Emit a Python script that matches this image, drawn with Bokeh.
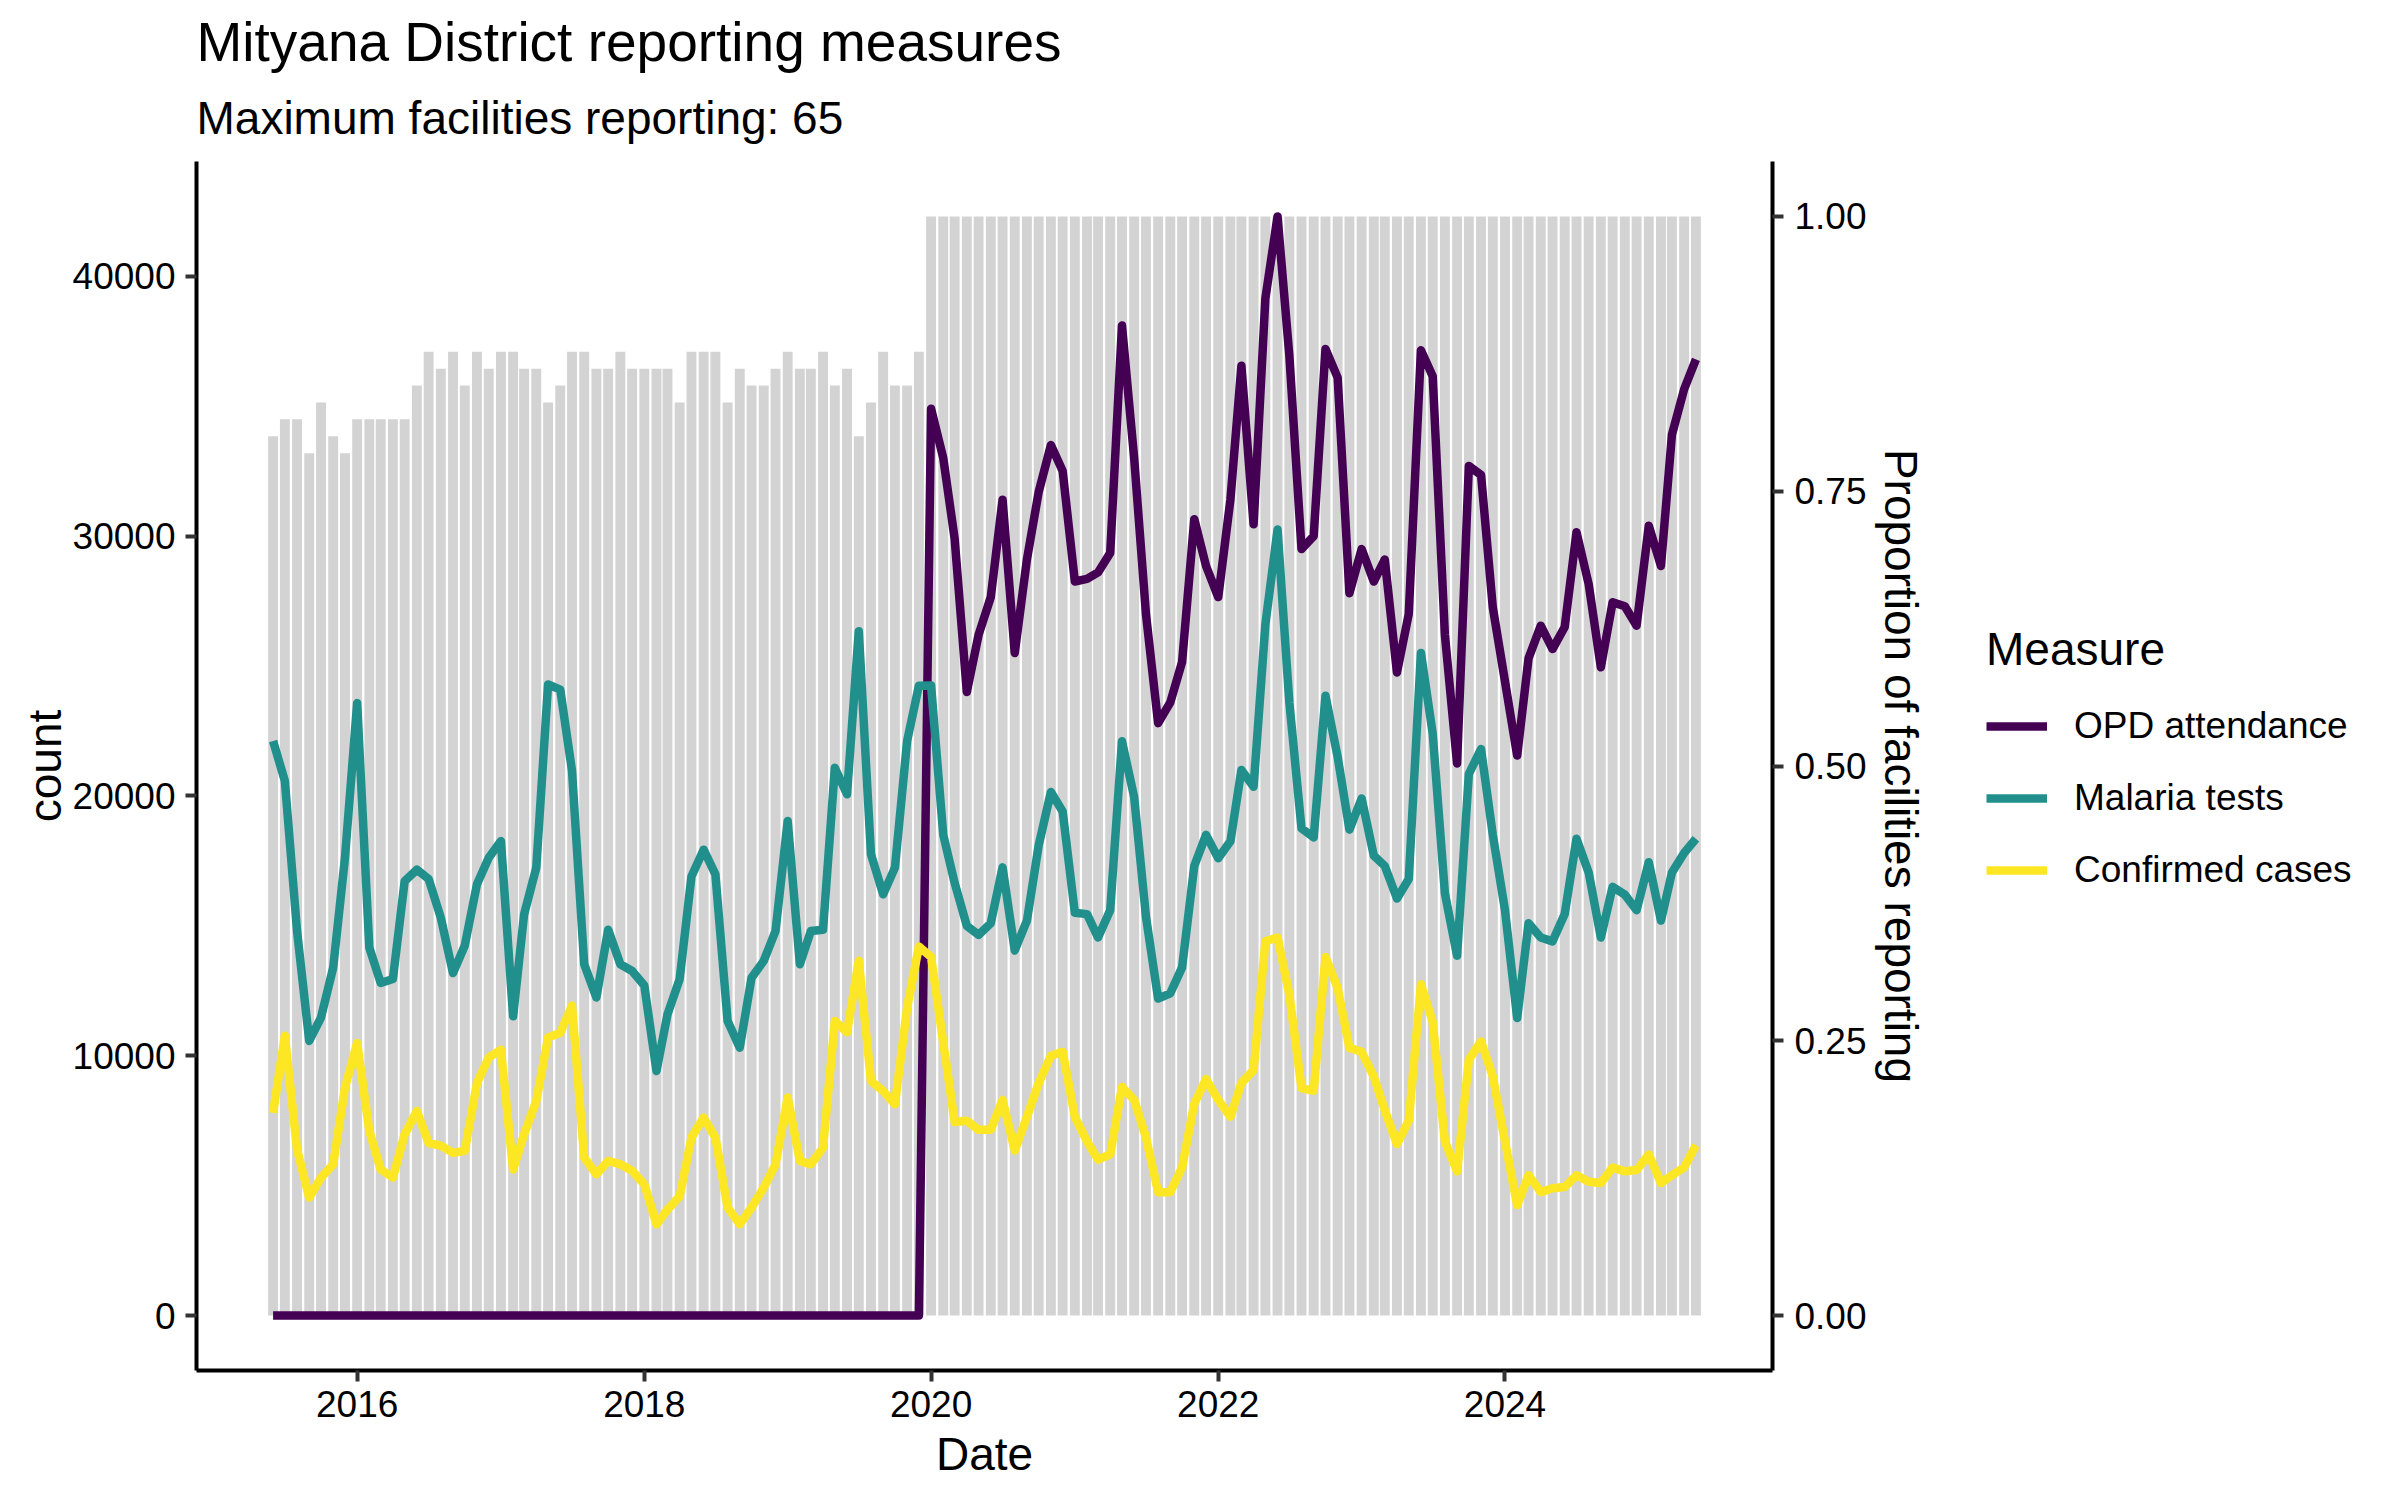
import pandas as pd
from bokeh.plotting import figure
from bokeh.layouts import row
from bokeh.models import (Range1d, LinearAxis, FixedTicker, DatetimeTickFormatter,
                          NumeralTickFormatter, BasicTickFormatter, Legend, LegendItem, Title)
from bokeh.embed import file_html
from bokeh.resources import INLINE

# ---------------- data ----------------
start_month = "2015-06-01"
n_months = 120
max_facilities = 65

facilities = [52, 53, 53, 51, 54, 52, 51, 53, 53, 53, 53, 53, 55, 57, 56, 57, 55, 57, 56, 57,
              57, 56, 56, 54, 55, 57, 57, 56, 56, 57, 56, 56, 56, 56, 54, 57, 57, 57, 54, 56,
              55, 55, 56, 57, 56, 56, 57, 55, 56, 52, 54, 57, 55, 55, 57] + [65] * 65

opd = [0] * 55 + [34900, 33000, 29900, 24000, 26200, 27650, 31400, 25500, 29100, 31700,
                  33500, 32500, 28250, 28350, 28600, 29350, 38100, 33000, 27000, 22800,
                  23600, 25150, 30650, 28850, 27650, 31400, 36550, 30450, 39150, 42300,
                  36950, 29500, 30000, 37200, 36100, 27800, 29500, 28250, 29100, 24750,
                  27000, 37150, 36150, 26200, 21250, 32700, 32350, 27250, 24400, 21550,
                  25300, 26550, 25650, 26500, 30150, 28150, 24950, 27450, 27300, 26550,
                  30400, 28850, 33900, 35650, 36800]

malaria = [22110, 20570, 14800, 10570, 11470, 13390, 17620, 23570, 14160, 12800,
           12950, 16720, 17160, 16800, 15310, 13180, 14240, 16600, 17620, 18260,
           11520, 15440, 17240, 24290, 24090, 20960, 13520, 12240, 14850, 13520,
           13260, 12700, 9410, 11590, 12950, 16900, 17930, 16980, 11340, 10310,
           13000, 13650, 14800, 19030, 13520, 14800, 14850, 21080, 20060, 26340,
           17750, 16210, 17240, 22110, 24240,
           24250, 18500, 16650, 15000, 14650, 15100, 17250, 14050, 15200, 18100,
           20150, 19400, 15500, 15450, 14550, 15600, 22100, 19950, 15350, 12200,
           12400, 13400, 17300, 18500, 17600, 18250, 21000, 20350, 26600, 30250,
           23600, 18750, 18400, 23850, 21500, 18700, 19900, 17700, 17300, 16050,
           16800, 25500, 22400, 16250, 13850, 20850, 21800, 18500, 15600, 11450,
           15100, 14550, 14400, 15450, 18350, 17050, 14550, 16500, 16200, 15600,
           17450, 15200, 17050, 17800, 18350]

confirmed = [7800, 10770, 6390, 4540, 5310, 5820, 8770, 10490, 7100, 5620,
             5310, 6980, 7870, 6640, 6540, 6260, 6340, 8950, 9930, 10230,
             5620, 6980, 8260, 10700, 10880, 11930, 6080, 5440, 5950, 5820,
             5570, 5050, 3510, 4080, 4590, 6850, 7620, 6850, 4160, 3510,
             4160, 4920, 5820, 8390, 5950, 5820, 6460, 11340, 10900, 13650,
             9030, 8640, 8130, 11850, 14200,
             13800, 10500, 7450, 7500, 7150, 7150, 8300, 6350, 7650, 8950,
             10000, 10150, 7650, 6700, 6000, 6200, 8800, 8300, 6850, 4750,
             4750, 5700, 8150, 9100, 8300, 7650, 8950, 9450, 14400, 14550,
             12350, 8750, 8650, 13800, 12600, 10300, 10150, 9200, 7900, 6600,
             7500, 12750, 11300, 6700, 5550, 9850, 10550, 9200, 6700, 4250,
             5400, 4750, 4900, 4950, 5400, 5150, 5100, 5700, 5550, 5600,
             6200, 5100, 5400, 5700, 6550]

measures = ["OPD attendance", "Malaria tests", "Confirmed cases"]
colors = ["#440154", "#21908C", "#FDE725"]
x_tick_years = [2016, 2018, 2020, 2022, 2024]
y_ticks = [0, 10000, 20000, 30000, 40000]
prop_ticks = [0.0, 0.25, 0.5, 0.75, 1.0]

# ---------------- derived ----------------
dates = pd.date_range(start_month, periods=n_months, freq="MS")
x_ms = list(dates.asi8 / 1e6)
prop = [f / max_facilities for f in facilities]
scale_max = max(opd)

DAY = 86400000.0
bar_w = 0.9 * 28 * DAY
lo = x_ms[0] - bar_w / 2
hi = x_ms[-1] + bar_w / 2
span = hi - lo
x0, x1 = lo - 0.05 * span, hi + 0.05 * span
ymax = max(max(opd), max(malaria), max(confirmed), scale_max)
y0, y1 = -0.05 * ymax, 1.05 * ymax

FONT = "Liberation Sans"
TOTAL_W, TOTAL_H = 2384, 1484
MAIN_W = 1980
LW = 8.5

p = figure(width=MAIN_W, height=TOTAL_H, x_axis_type="datetime", output_backend="svg",
           toolbar_location=None, x_range=Range1d(x0, x1), y_range=Range1d(y0, y1),
           min_border_left=196, min_border_right=MAIN_W - 1772, min_border_top=161,
           min_border_bottom=114)
p.extra_y_ranges = {"prop": Range1d(y0 / scale_max, y1 / scale_max)}
p.outline_line_color = None
p.xgrid.visible = False
p.ygrid.visible = False
p.background_fill_color = "white"
p.border_fill_color = "white"

# bars: proportion of facilities reporting (secondary axis)
p.vbar(x=x_ms, top=prop, bottom=0, width=bar_w, fill_color="#D3D3D3",
       line_color=None, y_range_name="prop")

for name, vals, col in zip(measures, [opd, malaria, confirmed], colors):
    p.line(x=x_ms, y=vals, line_color=col, line_width=LW, line_join="round")

# ---------------- axes ----------------
def style_axis(ax):
    ax.axis_line_width = 4
    ax.axis_line_color = "black"
    ax.major_tick_line_width = 4
    ax.major_tick_line_color = "#333333"
    ax.major_tick_out = 11
    ax.major_tick_in = 0
    ax.minor_tick_out = 0
    ax.minor_tick_in = 0
    ax.major_label_text_font_size = "37px"
    ax.major_label_text_font = FONT
    ax.major_label_text_color = "black"
    ax.axis_label_text_font_size = "46px"
    ax.axis_label_text_font = FONT
    ax.axis_label_text_font_style = "normal"
    ax.axis_label_text_color = "black"

xa = p.xaxis[0]
xa.ticker = FixedTicker(ticks=[pd.Timestamp(f"{y}-01-01").value / 1e6 for y in x_tick_years])
xa.formatter = DatetimeTickFormatter(years="%Y", months="%Y", days="%Y", hours="%Y",
                                     minutes="%Y", seconds="%Y", milliseconds="%Y")
xa.axis_label = "Date"
style_axis(xa)
xa.major_label_standoff = 9
xa.axis_label_standoff = 8

ya = p.yaxis[0]
ya.ticker = FixedTicker(ticks=y_ticks)
ya.formatter = BasicTickFormatter(use_scientific=False)
ya.axis_label = "count"
style_axis(ya)
ya.major_label_standoff = 10
ya.axis_label_standoff = -1

ra = LinearAxis(y_range_name="prop", ticker=FixedTicker(ticks=prop_ticks),
                formatter=NumeralTickFormatter(format="0.00"),
                axis_label="Proportion of facilities reporting")
style_axis(ra)
ra.major_label_standoff = 11
ra.axis_label_standoff = 5
p.add_layout(ra, "right")

# ---------------- titles ----------------
p.title.text = "Mityana District reporting measures"
p.title.text_font_size = "55px"
p.title.text_font = FONT
p.title.text_font_style = "normal"
p.title.text_color = "black"
p.title.align = "left"
p.title.standoff = 0
sub_title = Title(text="Maximum facilities reporting: 65", text_font_size="46px",
                  text_font=FONT, text_font_style="normal", text_color="black",
                  align="left", standoff=35)
p.add_layout(sub_title, "above")

# ---------------- legend (separate panel to the right) ----------------
lg = figure(width=TOTAL_W - MAIN_W, height=TOTAL_H, output_backend="svg",
            toolbar_location=None, x_axis_location=None, y_axis_location=None,
            x_range=Range1d(0, 1), y_range=Range1d(0, 1),
            min_border_left=0, min_border_right=0, min_border_top=0, min_border_bottom=0)
lg.outline_line_color = None
lg.xgrid.visible = False
lg.ygrid.visible = False
lg.background_fill_color = "white"
lg.border_fill_color = "white"
# legend keys: line renderers kept outside the visible range of this key panel
keys = []
for name, col in zip(measures, colors):
    keys.append(lg.line(x=[-3, -2], y=[-3, -2], line_color=col, line_width=LW))

legend = Legend(items=[LegendItem(label=m, renderers=[r]) for m, r in zip(measures, keys)],
                title="Measure", location=(6, 464),
                title_text_font_size="46px", title_text_font=FONT,
                title_text_font_style="normal", title_text_color="black",
                label_text_font_size="37px", label_text_font=FONT, label_text_color="black",
                glyph_width=61, glyph_height=72, label_height=72, label_standoff=27,
                spacing=0, padding=0, margin=0, title_standoff=14,
                border_line_color=None, background_fill_alpha=0)
lg.add_layout(legend)

layout = row(p, lg, spacing=0)
open("out.html", "w").write(file_html(layout, INLINE))
